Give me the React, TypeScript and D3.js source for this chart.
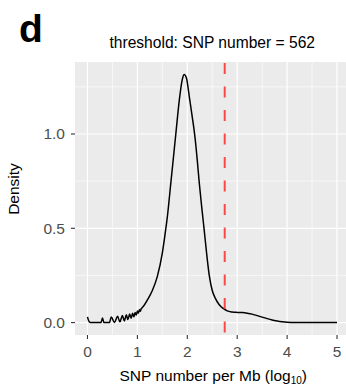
import React from "react";
import * as d3 from "d3";

// Density curve (x = log10 SNP number per Mb, y = density)
const curveX = [
  0, 0.02, 0.05, 0.07, 0.2, 0.27, 0.301, 0.33, 0.44, 0.477, 0.54, 0.602, 0.65, 0.699, 0.74,
  0.778, 0.81, 0.845, 0.875, 0.903, 0.93, 0.954, 0.977, 1.0, 1.02, 1.041, 1.06, 1.079, 1.1,
  1.2, 1.3, 1.4, 1.5, 1.55, 1.6, 1.67, 1.77, 1.84, 1.9, 1.94, 1.98, 2.05, 2.1, 2.155, 2.2,
  2.24, 2.29, 2.335, 2.39, 2.44, 2.5, 2.56, 2.64, 2.72, 2.8, 2.9, 3.0, 3.1, 3.2, 3.3, 3.4,
  3.5, 3.6, 3.7, 3.8, 3.9, 4.0, 4.15, 4.5, 5.0,
];
const curveY = [
  0.03, 0.012, 0.001, 0, 0, 0, 0.024, 0, 0, 0.03, 0.001, 0.033, 0.004, 0.037, 0.009,
  0.041, 0.016, 0.045, 0.023, 0.049, 0.031, 0.054, 0.04, 0.061, 0.05, 0.068, 0.06, 0.075, 0.08,
  0.12, 0.17, 0.245, 0.37, 0.46, 0.56, 0.74, 1.0, 1.18, 1.29, 1.316, 1.3, 1.18, 1.09, 0.98, 0.86,
  0.74, 0.61, 0.5, 0.36, 0.25, 0.17, 0.13, 0.095, 0.075, 0.062, 0.056, 0.054, 0.053, 0.05, 0.045, 0.037,
  0.029, 0.021, 0.014, 0.009, 0.005, 0.002, 0, 0, 0,
];

const thresholdCount = 562;
const xTicks = [0, 1, 2, 3, 4, 5];
const xMinor = [0.5, 1.5, 2.5, 3.5, 4.5];
const yTicks = [0, 0.5, 1.0];
const yTickLabels = ["0.0", "0.5", "1.0"];
const yMinor = [0.25, 0.75, 1.25];

const W = 346;
const H = 387;
const panel = { left: 75, right: 349.5, top: 62, bottom: 335 };
const FONT = "'Liberation Sans', Arial, Helvetica, sans-serif";

export default function App() {
  const xMinV = 0, xMaxV = 5;
  const xPad = (xMaxV - xMinV) * 0.05;
  const x = d3.scaleLinear().domain([xMinV - xPad, xMaxV + xPad]).range([panel.left, panel.right]);
  const yMaxV = d3.max(curveY) as number;
  const yPad = yMaxV * 0.05;
  const y = d3.scaleLinear().domain([-yPad, yMaxV + yPad]).range([panel.bottom, panel.top]);

  const pts: [number, number][] = curveX.map((v, i) => [v, curveY[i]]);
  const line = d3
    .line<[number, number]>()
    .x((d) => x(d[0]))
    .y((d) => y(d[1]))
    .curve(d3.curveMonotoneX);

  const thrX = x(Math.log10(thresholdCount));
  const cx = (panel.left + panel.right) / 2;

  return (
    <svg
      width={W}
      height={H}
      style={{ position: "absolute", left: 0, top: 0, display: "block", background: "#fff" }}
      fontFamily={FONT}
    >
      <defs>
        <clipPath id="pclip">
          <rect x={panel.left} y={panel.top} width={panel.right - panel.left} height={panel.bottom - panel.top} />
        </clipPath>
      </defs>
      <rect
        x={panel.left}
        y={panel.top}
        width={panel.right - panel.left}
        height={panel.bottom - panel.top}
        fill="#EBEBEB"
      />
      <g clipPath="url(#pclip)">
        {xMinor.map((v) => (
          <line key={"xm" + v} x1={x(v)} x2={x(v)} y1={panel.top} y2={panel.bottom} stroke="#fff" strokeWidth={0.6} />
        ))}
        {yMinor.map((v) => (
          <line key={"ym" + v} x1={panel.left} x2={panel.right} y1={y(v)} y2={y(v)} stroke="#fff" strokeWidth={0.6} />
        ))}
        {xTicks.map((v) => (
          <line key={"xg" + v} x1={x(v)} x2={x(v)} y1={panel.top} y2={panel.bottom} stroke="#fff" strokeWidth={1.2} />
        ))}
        {yTicks.map((v) => (
          <line key={"yg" + v} x1={panel.left} x2={panel.right} y1={y(v)} y2={y(v)} stroke="#fff" strokeWidth={1.2} />
        ))}
        <path d={line(pts) || ""} fill="none" stroke="#000" strokeWidth={1.5} strokeLinejoin="round" />
        <line
          x1={thrX}
          x2={thrX}
          y1={panel.top}
          y2={panel.bottom}
          stroke="#FF2A2A"
          strokeOpacity={0.85}
          strokeWidth={2}
          strokeDasharray="11 12.5"
          strokeDashoffset={-1}
        />
      </g>
      {/* ticks */}
      {xTicks.map((v) => (
        <g key={"xt" + v}>
          <line x1={x(v)} x2={x(v)} y1={panel.bottom} y2={panel.bottom + 4} stroke="#333" strokeWidth={1.1} />
          <text x={x(v)} y={357} textAnchor="middle" fontSize={15.5} fill="#4D4D4D">
            {String(v)}
          </text>
        </g>
      ))}
      {yTicks.map((v, i) => (
        <g key={"yt" + v}>
          <line x1={panel.left - 4} x2={panel.left} y1={y(v)} y2={y(v)} stroke="#333" strokeWidth={1.1} />
          <text x={65} y={y(v) + 5.3} textAnchor="end" fontSize={15.5} fill="#4D4D4D">
            {yTickLabels[i]}
          </text>
        </g>
      ))}
      {/* axis titles */}
      <text x={cx + 1} y={381} textAnchor="middle" fontSize={15.5} fill="#000">
        SNP number per Mb (log
        <tspan fontSize={10} dy={3}>10</tspan>
        <tspan dy={-3}>)</tspan>
      </text>
      <text
        transform={`translate(19,189) rotate(-90)`}
        textAnchor="middle"
        fontSize={15.5}
        fill="#000"
      >
        Density
      </text>
      {/* title */}
      <text x={cx} y={47.7} textAnchor="middle" fontSize={15.6} fill="#000">
        threshold: SNP number = {thresholdCount}
      </text>
      <text x={19} y={41.7} fontSize={39} fontWeight="bold" fill="#000">
        d
      </text>
    </svg>
  );
}
